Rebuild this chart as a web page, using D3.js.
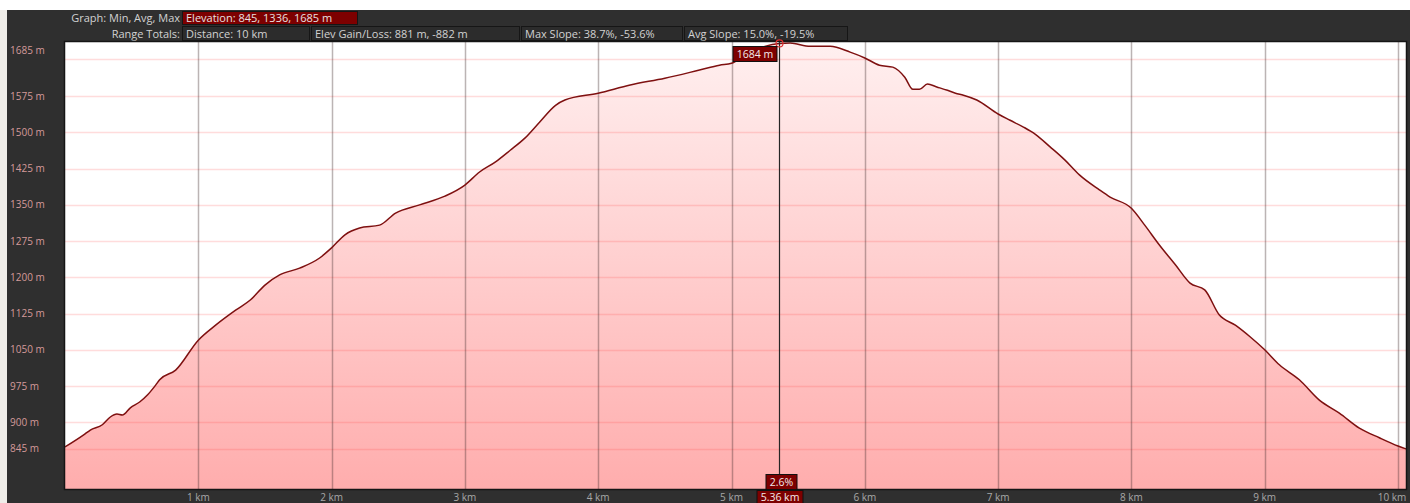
<!DOCTYPE html>
<html lang="en">
<head>
    <meta charset="UTF-8">
    <title>Elevation Profile</title>
    <script src="https://d3js.org/d3.v7.min.js"></script>
    <style>
        body { margin: 0; background: #ffffff; }
        svg { display: block; font-family: "Open Sans", sans-serif; }
        .hdr-text { fill: #d2d2d2; font-size: 11px; }
        .y-label { fill: #d49a9a; font-size: 10px; }
        .x-label { fill: #a8a8a8; font-size: 10px; }
    </style>
</head>
<body>
<script>

    var w = 1410;
    var h = 503;

    // distance (km) and elevation (m)
    var distKm = [0.00, 0.14, 0.19, 0.28, 0.34, 0.39, 0.43, 0.49, 0.56, 0.62, 0.68, 0.71, 0.83,
        1.00, 1.13, 1.28, 1.39, 1.50, 1.61, 1.76, 1.91, 2.00, 2.10, 2.21, 2.36, 2.48, 2.66, 2.85,
        3.00, 3.11, 3.23, 3.34, 3.45, 3.56, 3.68, 3.75, 4.00, 4.24, 4.50, 4.76, 4.91, 5.00, 5.10,
        5.25, 5.36, 5.44, 5.59, 5.74, 5.89, 6.00, 6.11, 6.21, 6.30, 6.36, 6.41, 6.47, 6.54, 6.62,
        6.68, 6.74, 6.84, 7.00, 7.09, 7.19, 7.28, 7.39, 7.50, 7.61, 7.76, 7.84, 8.00, 8.10, 8.21,
        8.33, 8.44, 8.55, 8.66, 8.78, 8.89, 9.00, 9.11, 9.26, 9.41, 9.56, 9.71, 9.86, 10.00, 10.06];
    var elevM = [849, 874, 884, 895, 911, 917, 915, 930, 942, 957, 977, 988, 1008,
        1070, 1101, 1132, 1153, 1184, 1205, 1219, 1240, 1261, 1288, 1302, 1308, 1333, 1350, 1368,
        1391, 1418, 1439, 1463, 1488, 1521, 1556, 1567, 1581, 1598, 1612, 1629, 1639, 1643, 1660,
        1678, 1684, 1685, 1678, 1678, 1666, 1654, 1639, 1635, 1614, 1589, 1589, 1600, 1594, 1587,
        1581, 1577, 1567, 1538, 1525, 1511, 1496, 1470, 1443, 1412, 1381, 1366, 1343, 1308, 1267,
        1226, 1188, 1174, 1122, 1101, 1077, 1050, 1019, 988, 946, 919, 888, 868, 851, 845];

    var yTicks = [845, 900, 975, 1050, 1125, 1200, 1275, 1350, 1425, 1500, 1575, 1685];
    var yGridExtra = [1652];
    var xTicks = [1, 2, 3, 4, 5, 6, 7, 8, 9, 10];

    var headerRow1 = { label: "Graph: Min, Avg, Max", boxes: ["Elevation: 845, 1336, 1685 m"] };
    var headerRow2 = { label: "Range Totals:", boxes: ["Distance: 10 km", "Elev Gain/Loss: 881 m, -882 m",
        "Max Slope: 38.7%, -53.6%", "Avg Slope: 15.0%, -19.5%"] };

    var cursorKm = 5.36;
    var cursorElev = 1684;
    var cursorSlope = "2.6%";

    var plot = { left: 65, top: 42, right: 1406, bottom: 489 };

    var svg = d3.select("body")
        .append("svg")
        .attr("width", w)
        .attr("height", h);

    // background panel
    svg.append("rect").attr("x", 0).attr("y", 0).attr("width", w).attr("height", h).attr("fill", "#ffffff");
    svg.append("rect").attr("x", 0).attr("y", 10).attr("width", 7).attr("height", h - 10).attr("fill", "#efede9");
    svg.append("rect").attr("x", 7).attr("y", 10).attr("width", w - 7).attr("height", h - 10).attr("fill", "#2f2f2f");

    var xScale = d3.scaleLinear()
        .domain([0, 10.06])
        .range([plot.left, plot.right]);

    var yScale = d3.scaleLinear()
        .domain([762, 1687])
        .range([plot.bottom, plot.top]);

    // header rows
    var boxWidths1 = [176];
    var boxWidths2 = [128, 209, 162, 164];

    function drawRow(row, widths, y, hgt, firstFill) {
        svg.append("text")
            .attr("class", "hdr-text")
            .attr("x", 180)
            .attr("y", y + hgt / 2 + 4)
            .attr("text-anchor", "end")
            .text(row.label);
        var x = 182;
        row.boxes.forEach(function (t, i) {
            svg.append("rect")
                .attr("x", x + 0.5).attr("y", y + 0.5)
                .attr("width", widths[i] - 1).attr("height", hgt - 1)
                .attr("fill", i === 0 && firstFill ? firstFill : "#2c2c2c")
                .attr("stroke", "#161616");
            svg.append("text")
                .attr("class", "hdr-text")
                .attr("x", x + 4)
                .attr("y", y + hgt / 2 + 4)
                .style("fill", i === 0 && firstFill ? "#e8e0e0" : "#d2d2d2")
                .text(t);
            x += widths[i] + 1;
        });
    }
    drawRow(headerRow1, boxWidths1, 11, 14, "#7d0000");
    drawRow(headerRow2, boxWidths2, 26, 15, null);

    // plot background
    svg.append("rect")
        .attr("x", plot.left).attr("y", plot.top)
        .attr("width", plot.right - plot.left).attr("height", plot.bottom - plot.top)
        .attr("fill", "#ffffff");

    var defs = svg.append("defs");
    var grad = defs.append("linearGradient")
        .attr("id", "fillGrad")
        .attr("gradientUnits", "userSpaceOnUse")
        .attr("x1", 0).attr("y1", plot.top).attr("x2", 0).attr("y2", plot.bottom);
    grad.append("stop").attr("offset", "0%").attr("stop-color", "#fff0f0");
    grad.append("stop").attr("offset", "100%").attr("stop-color", "#ffadad");

    var data = distKm.map(function (d, i) { return { km: d, elev: elevM[i] }; });

    var area = d3.area()
        .x(function (d) { return xScale(d.km); })
        .y0(plot.bottom)
        .y1(function (d) { return yScale(d.elev); })
        .curve(d3.curveMonotoneX);

    svg.append("path")
        .datum(data)
        .attr("d", area)
        .attr("fill", "url(#fillGrad)");

    // grid
    svg.selectAll(".hgrid")
        .data(yTicks.filter(function (d) { return d !== 1685; }).concat(yGridExtra))
        .enter()
        .append("line")
        .attr("x1", plot.left).attr("x2", plot.right)
        .attr("y1", function (d) { return Math.round(yScale(d)) + 0.5; })
        .attr("y2", function (d) { return Math.round(yScale(d)) + 0.5; })
        .attr("stroke", "rgba(255,60,60,0.18)")
        .attr("stroke-width", 1.5);

    svg.selectAll(".vgrid")
        .data(xTicks)
        .enter()
        .append("line")
        .attr("x1", function (d) { return Math.round(xScale(d)) + 0.5; })
        .attr("x2", function (d) { return Math.round(xScale(d)) + 0.5; })
        .attr("y1", plot.top).attr("y2", plot.bottom)
        .attr("stroke", "rgba(60,40,40,0.35)")
        .attr("stroke-width", 1.5);

    // profile line
    var line = d3.line()
        .x(function (d) { return xScale(d.km); })
        .y(function (d) { return yScale(d.elev); })
        .curve(d3.curveMonotoneX);

    svg.append("path")
        .datum(data)
        .attr("d", line)
        .attr("fill", "none")
        .attr("stroke", "#7e1010")
        .attr("stroke-width", 1.5);

    // plot border
    svg.append("rect")
        .attr("x", plot.left - 0.5).attr("y", plot.top - 0.5)
        .attr("width", plot.right - plot.left + 1).attr("height", plot.bottom - plot.top + 1)
        .attr("fill", "none")
        .attr("stroke", "#151515")
        .attr("stroke-width", 1.5);

    // y labels
    svg.selectAll(".y-label")
        .data(yTicks)
        .enter()
        .append("text")
        .attr("class", "y-label")
        .attr("x", 10)
        .attr("y", function (d) { return Math.max(yScale(d), plot.top + 8) + 3.5; })
        .text(function (d) { return d + " m"; });

    // x labels
    svg.selectAll(".x-label")
        .data(xTicks)
        .enter()
        .append("text")
        .attr("class", "x-label")
        .attr("x", function (d) { return Math.min(xScale(d), plot.right - 14); })
        .attr("y", 501)
        .attr("text-anchor", "middle")
        .text(function (d) { return d + " km"; });

    // cursor
    var cx = Math.round(xScale(cursorKm)) + 0.5;
    svg.append("line")
        .attr("x1", cx).attr("x2", cx)
        .attr("y1", plot.top).attr("y2", plot.bottom)
        .attr("stroke", "#262626")
        .attr("stroke-width", 1.2);

    svg.append("circle")
        .attr("cx", cx).attr("cy", yScale(cursorElev))
        .attr("r", 3.5)
        .attr("fill", "none")
        .attr("stroke", "#e03030")
        .attr("stroke-width", 1.2);

    function labelBox(text, xLeft, yTop, bw, bh) {
        svg.append("rect")
            .attr("x", xLeft + 0.5).attr("y", yTop + 0.5)
            .attr("width", bw).attr("height", bh)
            .attr("fill", "#7d0000")
            .attr("stroke", "#111111");
        svg.append("text")
            .attr("x", xLeft + bw / 2 + 0.5)
            .attr("y", yTop + bh / 2 + 4)
            .attr("text-anchor", "middle")
            .style("fill", "#f2eaea")
            .style("font-size", "10.5px")
            .text(text);
    }
    labelBox(cursorElev + " m", cx - 47, 46, 44, 15);
    labelBox(cursorSlope, cx - 14, 474, 31, 15);
    labelBox(cursorKm.toFixed(2) + " km", cx - 23, 490, 46, 14);

</script>
</body>
</html>
